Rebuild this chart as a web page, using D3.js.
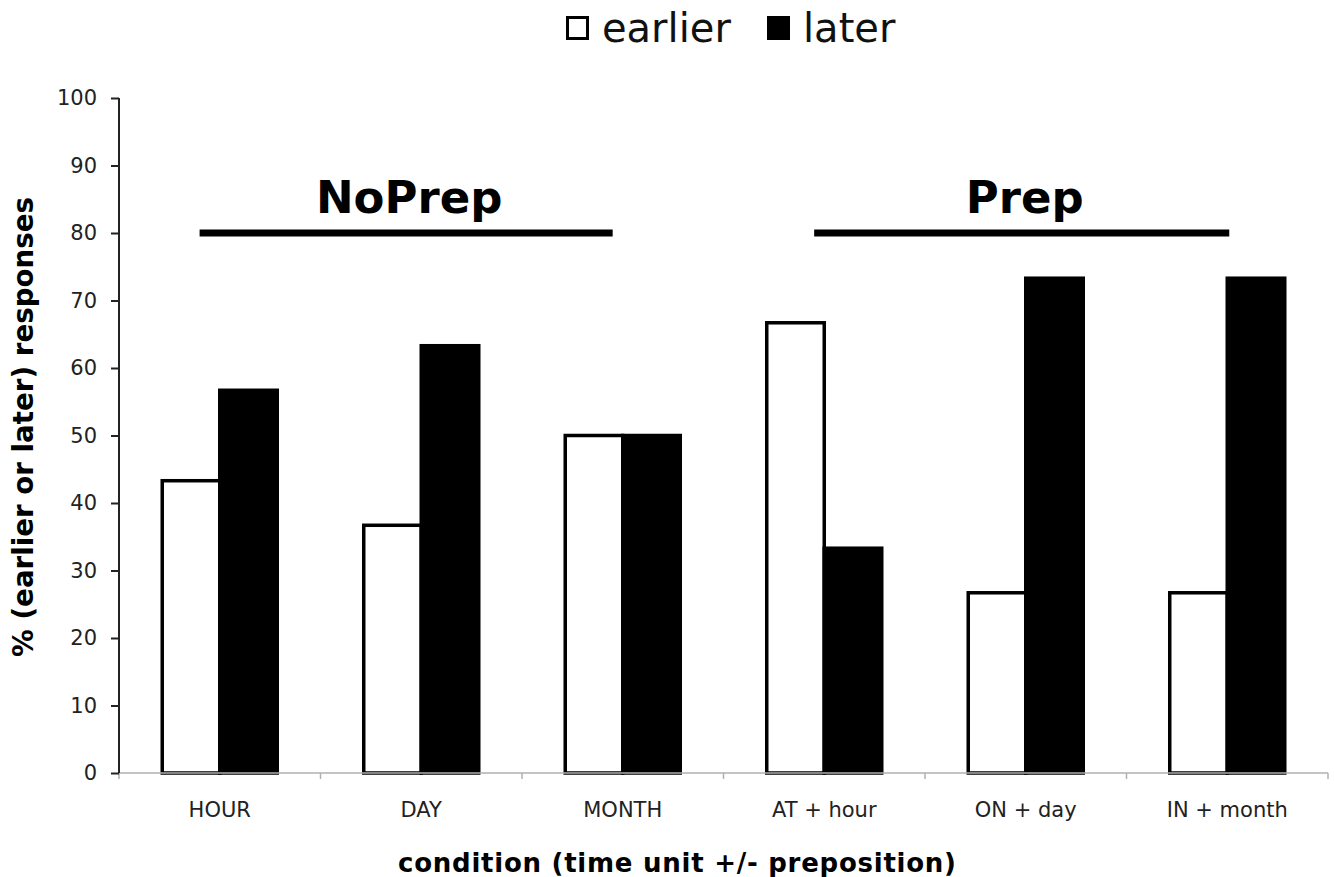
<!DOCTYPE html>
<html>
<head>
<meta charset="utf-8">
<script src="https://cdn.jsdelivr.net/npm/d3@7"></script>
<style>
  body { margin: 0; background: #fff; }
  text { font-family: "DejaVu Sans", Verdana, sans-serif; }
</style>
</head>
<body>
<div id="chart"></div>
<script>
// categories and series
const categories = ["HOUR", "DAY", "MONTH", "AT + hour", "ON + day", "IN + month"];
const seriesNames = ["earlier", "later"];
const earlier = [43.3, 36.7, 50, 66.7, 26.7, 26.7];
const later = [56.7, 63.3, 50, 33.3, 73.3, 73.3];
const yTicks = [0, 10, 20, 30, 40, 50, 60, 70, 80, 90, 100];
const groupNames = ["NoPrep", "Prep"];
const groupMembers = [["HOUR", "DAY", "MONTH"], ["AT + hour", "ON + day", "IN + month"]];
const yTitle = "% (earlier or later) responses";
const xTitle = "condition (time unit +/- preposition)";

const width = 1334, height = 877;
const plotLeft = 119, plotRight = 1328, plotTop = 98, plotBottom = 773;

const svg = d3.select("#chart").append("svg")
    .attr("width", width)
    .attr("height", height);

//Scales
const x0 = d3.scaleBand().domain(categories).range([plotLeft, plotRight]).padding(0);
const x1 = d3.scaleBand().domain(seriesNames).range([0, x0.bandwidth()])
    .paddingInner(0).paddingOuter(0.752);
const y = d3.scaleLinear().domain([0, 100]).range([plotBottom, plotTop]);
// category index -> px, used for the group annotation lines
const xi = d3.scaleLinear().domain([0, categories.length]).range([plotLeft, plotRight]);

const rows = categories.map((c, i) => ({ cat: c, earlier: earlier[i], later: later[i] }));

//Bars
const groups = svg.append("g").selectAll("g")
    .data(rows)
    .join("g")
    .attr("transform", d => "translate(" + x0(d.cat) + ",0)");

groups.selectAll("rect")
    .data(d => seriesNames.map(k => ({ key: k, value: d[k] })))
    .join("rect")
    .attr("x", d => x1(d.key))
    .attr("y", d => y(d.value))
    .attr("width", x1.bandwidth())
    .attr("height", d => y(0) - y(d.value))
    .attr("fill", d => d.key === "earlier" ? "#fff" : "#000")
    .attr("stroke", "#000")
    .attr("stroke-width", 3.5);

//X axis (grey, ticks at band edges)
const xg = svg.append("g");
xg.append("line")
    .attr("x1", plotLeft).attr("x2", plotRight)
    .attr("y1", plotBottom).attr("y2", plotBottom)
    .attr("stroke", "#b0b0b0").attr("stroke-width", 1.5);
xg.selectAll("line.tick")
    .data(categories.concat(["end"]))
    .join("line")
    .attr("class", "tick")
    .attr("x1", (d, i) => xi(i)).attr("x2", (d, i) => xi(i))
    .attr("y1", plotBottom).attr("y2", plotBottom + 6)
    .attr("stroke", "#b0b0b0").attr("stroke-width", 1.5);
xg.selectAll("text")
    .data(categories)
    .join("text")
    .attr("x", d => x0(d) + x0.bandwidth() / 2)
    .attr("y", 817)
    .attr("text-anchor", "middle")
    .attr("font-size", 21)
    .attr("fill", "#222")
    .text(d => d);

//Y axis
const yAxis = d3.axisLeft(y).tickValues(yTicks).tickSize(8).tickPadding(14);
const yg = svg.append("g")
    .attr("transform", "translate(" + plotLeft + ",0)")
    .call(yAxis);
yg.select(".domain").attr("stroke", "#222").attr("stroke-width", 2)
    .attr("d", "M0," + plotTop + "V" + plotBottom);
yg.selectAll(".tick line").attr("stroke", "#222").attr("stroke-width", 2);
yg.selectAll(".tick text")
    .attr("font-family", "DejaVu Sans, Verdana, sans-serif")
    .attr("font-size", 21)
    .attr("fill", "#222");

//Axis titles
svg.append("text")
    .attr("transform", "translate(33," + 427 + ")rotate(-90)")
    .attr("text-anchor", "middle")
    .attr("font-size", 27.7)
    .attr("font-weight", "bold")
    .attr("fill", "#000")
    .text(yTitle);
svg.append("text")
    .attr("x", 398)
    .attr("y", 872)
    .attr("text-anchor", "start")
    .attr("font-size", 26)
    .attr("font-weight", "bold")
    .attr("textLength", 558)
    .attr("lengthAdjust", "spacing")
    .attr("fill", "#000")
    .text(xTitle);

//Group annotations (NoPrep / Prep)
const spanStart = [0.4, 3.45], spanEnd = [2.45, 5.51];
groupNames.forEach((g, i) => {
    const a = xi(spanStart[i]), b = xi(spanEnd[i]);
    svg.append("line")
        .attr("x1", a).attr("x2", b)
        .attr("y1", y(80)).attr("y2", y(80))
        .attr("stroke", "#000").attr("stroke-width", 7);
    svg.append("text")
        .attr("x", (a + b) / 2 + 3)
        .attr("y", 213)
        .attr("text-anchor", "middle")
        .attr("font-size", 45)
        .attr("font-weight", "bold")
        .text(g);
});

//Legend
const legend = svg.append("g");
const legendX = [566, 767];
seriesNames.forEach((s, i) => {
    legend.append("rect")
        .attr("x", legendX[i] + 1.5).attr("y", 17.5)
        .attr("width", 20).attr("height", 21)
        .attr("fill", s === "earlier" ? "#fff" : "#000")
        .attr("stroke", "#000").attr("stroke-width", 3);
    legend.append("text")
        .attr("x", legendX[i] + 36)
        .attr("y", 42)
        .attr("font-size", 40)
        .attr("fill", "#111")
        .text(s);
});
</script>
</body>
</html>
